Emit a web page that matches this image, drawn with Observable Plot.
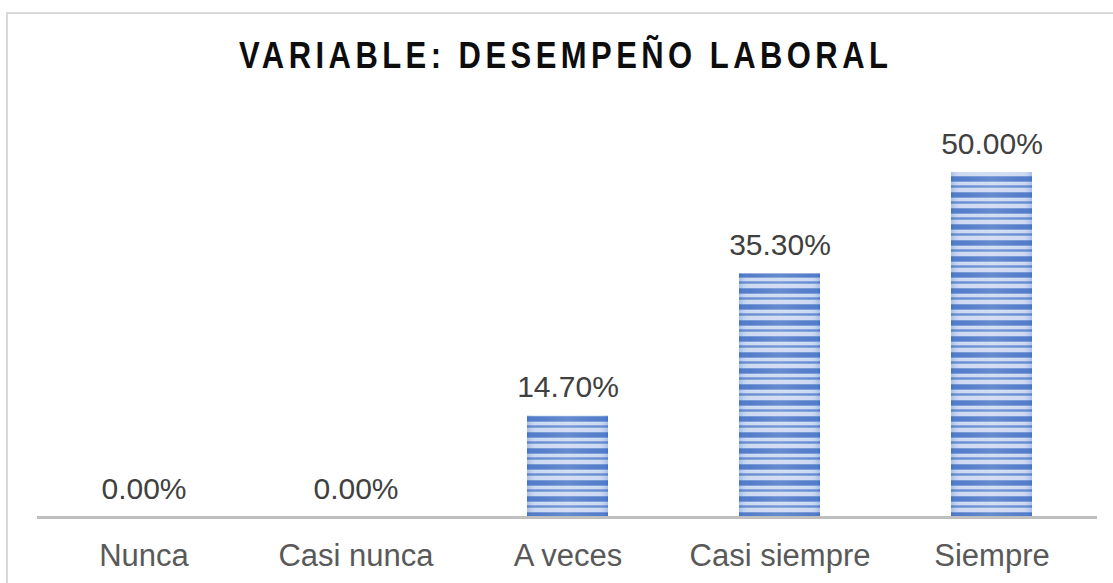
<!DOCTYPE html>
<html><head><meta charset="utf-8">
<script src="https://cdn.jsdelivr.net/npm/d3@7"></script>
<script src="https://cdn.jsdelivr.net/npm/@observablehq/plot@0.6"></script>
<style>
body{margin:0;background:#fff;}
#wrap{position:relative;width:1113px;height:583px;overflow:hidden;font-family:"Liberation Sans",Arial,sans-serif;}
#frame{position:absolute;left:6px;top:12px;width:1200px;height:700px;border-top:2px solid #d9d9d9;border-left:2px solid #d9d9d9;}
#title{position:absolute;left:7px;width:1113px;top:38px;text-align:center;font-size:36px;line-height:36px;font-weight:bold;color:#0d0d0d;white-space:nowrap;}
#title span{display:inline-block;letter-spacing:5.2px;padding-left:5.2px;transform:scaleX(0.86);transform-origin:center;}
#chart{position:absolute;left:0;top:0;}
</style>
</head>
<body>
<div id="wrap">
  <div id="frame"></div>
  <div id="title"><span>VARIABLE: DESEMPEÑO LABORAL</span></div>
  <div id="chart"></div>
</div>
<script>
const categories = ["Nunca", "Casi nunca", "A veces", "Casi siempre", "Siempre"];
const values = [0, 0, 14.7, 35.3, 50];
const valueLabels = ["0.00%", "0.00%", "14.70%", "35.30%", "50.00%"];

const data = categories.map((c, i) => ({category: c, value: values[i], label: valueLabels[i]}));
const font = '"Liberation Sans", Arial, sans-serif';

const chart = Plot.plot({
  width: 1113,
  height: 583,
  marginLeft: 37,
  marginRight: 16,
  marginTop: 172,
  marginBottom: 66,
  style: {fontFamily: font, background: "transparent", overflow: "visible"},
  x: {domain: categories, paddingInner: 0.62, paddingOuter: 0.31, label: null},
  y: {domain: [0, 50], axis: null},
  marks: [
    Plot.barY(data, {x: "category", y: "value", fill: "url(#stripes)"}),
    Plot.barY(data, {x: "category", y: "value", fill: "url(#sheen)"}),
    Plot.ruleY([0], {stroke: "#bfbfbf", strokeWidth: 3}),
    Plot.text(data, {x: "category", y: "value", text: "label", lineAnchor: "bottom", dy: -19, fontSize: 30, fill: "#404040"}),
    Plot.axisX({tickSize: 0, tickPadding: 26, fontSize: 31, fill: "#595959", label: null})
  ]
});

const ns = "http://www.w3.org/2000/svg";
const defs = document.createElementNS(ns, "defs");
defs.innerHTML = `
  <pattern id="stripes" patternUnits="userSpaceOnUse" x="0" y="0" width="1113" height="16">
    <rect x="0" y="0" width="1113" height="16" fill="#c9d7f1"/>
    <rect x="0" y="0" width="1113" height="1" fill="#6a8fd2"/>
    <rect x="0" y="1" width="1113" height="4" fill="#4472c4"/>
    <rect x="0" y="5" width="1113" height="1" fill="#7396d5"/>
    <rect x="0" y="9" width="1113" height="3" fill="#7b9cd8"/>
    <rect x="0" y="10" width="1113" height="1" fill="#5a82cc"/>
  </pattern>
  <linearGradient id="sheen" x1="0" x2="1" y1="0" y2="0">
    <stop offset="0" stop-color="#4472c4" stop-opacity="0.25"/>
    <stop offset="0.12" stop-color="#ffffff" stop-opacity="0.08"/>
    <stop offset="0.5" stop-color="#ffffff" stop-opacity="0.18"/>
    <stop offset="0.88" stop-color="#ffffff" stop-opacity="0.08"/>
    <stop offset="1" stop-color="#4472c4" stop-opacity="0.25"/>
  </linearGradient>`;
chart.insertBefore(defs, chart.firstChild);
document.getElementById("chart").appendChild(chart);
</script>
</body></html>
